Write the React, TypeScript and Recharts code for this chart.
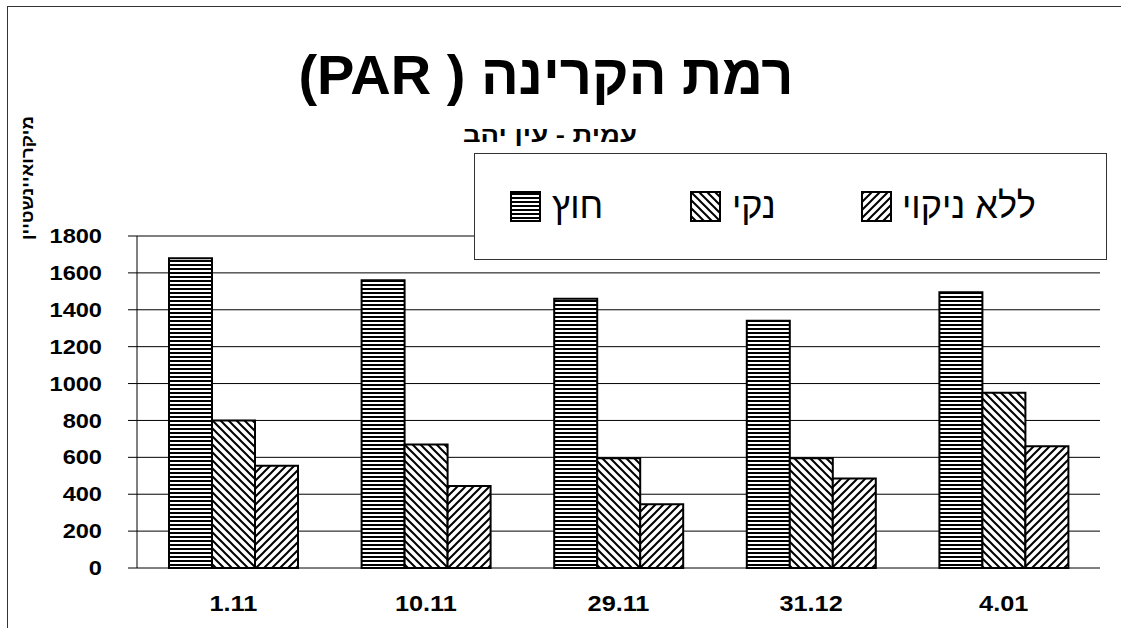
import React from 'react';
import { BarChart, Bar, XAxis, YAxis, CartesianGrid, Legend } from 'recharts';

const categories = ['1.11', '10.11', '29.11', '31.12', '4.01'];
const outsideValues = [1680, 1560, 1460, 1340, 1495];
const cleanValues = [800, 670, 595, 595, 950];
const uncleanedValues = [555, 445, 345, 485, 660];
const yTicks = [0, 200, 400, 600, 800, 1000, 1200, 1400, 1600, 1800];
const boundaryTicks = [0, 1, 2, 3, 4, 5];
const seriesKeys = ['outside', 'clean', 'unclean'];
const seriesNames = ['חוץ', 'נקי', 'ללא ניקוי'];
const titleText = 'רמת הקרינה ( PAR)';
const subtitleText = 'עמית - עין יהב';
const yAxisTitle = 'מיקרואיינשטיין';

const data = categories.map((c, i) => ({
  date: c,
  outside: outsideValues[i],
  clean: cleanValues[i],
  unclean: uncleanedValues[i],
}));

const patternIds = ['pHoriz', 'pBack', 'pFwd'];

const FONT = '"Liberation Sans", Arial, sans-serif';

function Patterns() {
  return (
    <svg width={0} height={0} style={{ position: 'absolute', left: 0, top: 0 }}>
      <defs>
        <pattern id="pHoriz" patternUnits="userSpaceOnUse" width={4} height={4}>
          <rect x={0} y={0} width={4} height={4} fill="#fff" />
          <rect x={0} y={0} width={4} height={2} fill="#000" />
        </pattern>
        <pattern id="pBack" patternUnits="userSpaceOnUse" width={8} height={8}>
          <rect x={0} y={0} width={8} height={8} fill="#fff" />
          <path d="M-2,-2 L10,10 M-2,6 L2,10 M6,-2 L10,2" stroke="#000" strokeWidth={2} />
        </pattern>
        <pattern id="pFwd" patternUnits="userSpaceOnUse" width={8} height={8}>
          <rect x={0} y={0} width={8} height={8} fill="#fff" />
          <path d="M-2,10 L10,-2 M-2,2 L2,-2 M6,10 L10,6" stroke="#000" strokeWidth={2} />
        </pattern>
      </defs>
    </svg>
  );
}

const legendPositions = [
  { swatch: 510, text: 552 },
  { swatch: 690, text: 732 },
  { swatch: 861, text: 902 },
];

function LegendBox(props: any) {
  const payload = props.payload || [];
  const ordered = seriesKeys.map((k) => payload.find((p: any) => p.dataKey === k)).filter(Boolean);
  return (
    <div
      style={{
        position: 'relative',
        width: 633,
        height: 107,
        border: '1px solid #333',
        background: '#fff',
        boxSizing: 'border-box',
      }}
    >
      {ordered.map((entry: any) => {
        const i = seriesKeys.indexOf(entry.dataKey);
        return (
          <React.Fragment key={entry.dataKey}>
            <div
              style={{
                position: 'absolute',
                left: legendPositions[i].swatch - 475,
                top: 37,
                width: 31,
                height: 31,
                boxSizing: 'border-box',
                border: '2px solid #000',
                background: '#fff',
              }}
            >
              <svg width={27} height={27} style={{ display: 'block' }}>
                <rect x={0} y={0} width={27} height={27} fill={`url(#${patternIds[i]})`} />
              </svg>
            </div>
            <div
              style={{
                position: 'absolute',
                left: legendPositions[i].text - 475,
                top: 30,
                fontFamily: FONT,
                fontSize: 36,
                lineHeight: '44px',
                color: '#000',
                whiteSpace: 'nowrap',
              }}
            >
              {entry.value}
            </div>
          </React.Fragment>
        );
      })}
    </div>
  );
}

function YTick(props: any) {
  const { x, y, payload } = props;
  return (
    <text
      x={0}
      y={0}
      dy="0.355em"
      textAnchor="end"
      transform={`translate(${x},${y}) scale(1.18,1)`}
      fontFamily={FONT}
      fontWeight="bold"
      fontSize={20}
      fill="#000"
    >
      {payload.value}
    </text>
  );
}

function XTick(props: any) {
  const { x, y, payload } = props;
  return (
    <text
      x={0}
      y={0}
      dy="0.71em"
      textAnchor="middle"
      transform={`translate(${x},${y}) scale(1.15,1)`}
      fontFamily={FONT}
      fontWeight="bold"
      fontSize={22}
      fill="#000"
    >
      {payload.value}
    </text>
  );
}

export default function App() {
  return (
    <div>
      <Patterns />
      <div
        style={{
          position: 'absolute',
          left: 7,
          top: 6,
          width: 1114,
          height: 622,
          borderTop: '1px solid #333',
          borderLeft: '1px solid #333',
          boxSizing: 'border-box',
        }}
      />
      <div style={{ position: 'absolute', left: 0, top: 0, width: 1121, height: 628 }}>
        <BarChart
          width={1121}
          height={628}
          data={data}
          margin={{ top: 236, right: 21, bottom: 0, left: 0 }}
          barGap={0}
        >
          <CartesianGrid vertical={false} stroke="#000" strokeWidth={1} yAxisId="left" xAxisId="cat" />
          <XAxis
            xAxisId="num"
            type="number"
            domain={[0, 5]}
            ticks={boundaryTicks}
            interval={0}
            height={0}
            tick={false}
            tickSize={9}
            axisLine={{ stroke: '#000', strokeWidth: 1 }}
            tickLine={{ stroke: '#000', strokeWidth: 1 }}
          />
          <XAxis
            xAxisId="cat"
            dataKey="date"
            height={60}
            interval={0}
            axisLine={false}
            tickLine={false}
            tickSize={0}
            tickMargin={27}
            tick={<XTick />}
          />
          <YAxis
            yAxisId="left"
            width={137}
            domain={[0, 1800]}
            ticks={yTicks}
            interval={0}
            tickSize={9}
            tickMargin={26}
            axisLine={{ stroke: '#000', strokeWidth: 1 }}
            tickLine={{ stroke: '#000', strokeWidth: 1 }}
            tick={<YTick />}
          />
          <YAxis
            yAxisId="right"
            orientation="right"
            width={0}
            domain={[0, 1800]}
            tick={false}
            tickLine={false}
            axisLine={{ stroke: '#999', strokeWidth: 2 }}
          />
          <Legend
            layout="vertical"
            align="center"
            verticalAlign="middle"
            content={<LegendBox />}
            wrapperStyle={{ left: 474, top: 153, width: 633, height: 107 }}
          />
          <Bar
            xAxisId="cat"
            yAxisId="left"
            dataKey="outside"
            name={seriesNames[0]}
            fill="url(#pHoriz)"
            stroke="#000"
            strokeWidth={2}
            barSize={43}
            isAnimationActive={false}
          />
          <Bar
            xAxisId="cat"
            yAxisId="left"
            dataKey="clean"
            name={seriesNames[1]}
            fill="url(#pBack)"
            stroke="#000"
            strokeWidth={2}
            barSize={43}
            isAnimationActive={false}
          />
          <Bar
            xAxisId="cat"
            yAxisId="left"
            dataKey="unclean"
            name={seriesNames[2]}
            fill="url(#pFwd)"
            stroke="#000"
            strokeWidth={2}
            barSize={43}
            isAnimationActive={false}
          />
        </BarChart>
      </div>
      <svg
        width={1121}
        height={628}
        style={{ position: 'absolute', left: 0, top: 0, pointerEvents: 'none' }}
      >
        <text
          x={546}
          y={94}
          textAnchor="middle"
          direction="rtl"
          fontFamily={FONT}
          fontWeight="bold"
          fontSize={56}
          fill="#000"
        >
          {titleText}
        </text>
        <text
          x={550}
          y={142}
          textAnchor="middle"
          fontFamily={FONT}
          fontWeight="bold"
          fontSize={22}
          textLength={174}
          lengthAdjust="spacingAndGlyphs"
          fill="#000"
        >
          {subtitleText}
        </text>
        <text
          x={0}
          y={0}
          transform="translate(27,178) rotate(-90)"
          textAnchor="middle"
          dominantBaseline="central"
          fontFamily={FONT}
          fontWeight="bold"
          fontSize={17}
          textLength={124}
          lengthAdjust="spacingAndGlyphs"
          fill="#000"
        >
          {yAxisTitle}
        </text>
      </svg>
    </div>
  );
}
